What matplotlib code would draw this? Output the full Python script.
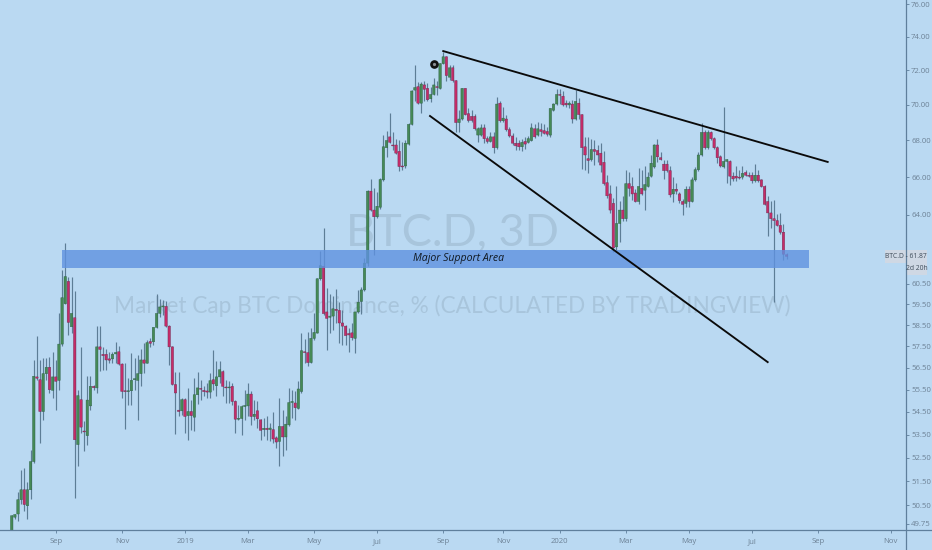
import matplotlib as mpl
mpl.use('Agg')
import matplotlib.pyplot as plt
from matplotlib.lines import Line2D
from matplotlib.patches import Rectangle

# 3D candles
opens = [49.3,50.02,50.15,50.74,51.15,50.49,51.15,52.34,56.08,55.95,
         54.52,56.23,56.52,55.47,56.08,55.92,57.6,59.53,60.62,58.42,
         58.85,53.07,55.05,53.66,53.46,54.77,55.65,55.58,57.47,57.12,
         57.12,56.91,56.91,57.14,57.24,56.67,55.45,55.41,55.45,55.95,
         55.92,56.23,56.86,56.71,57.72,57.71,58.39,59.06,59.37,59.4,
         58.45,57.47,55.73,54.58,54.55,55.05,54.34,54.52,54.27,55.27,
         55.56,55.47,55.44,55.39,55.95,55.68,56.08,56.32,55.62,55.58,
         55.65,54.97,54.18,54.21,54.74,54.77,55.3,54.3,54.55,54.15,
         53.72,53.78,53.72,53.72,53.36,53.21,53.86,53.4,53.93,54.92,
         54.9,54.66,55.42,57.24,57.2,56.74,57.87,58.12,60.75,61.37,
         59.13,58.87,58.93,59.26,59.2,58.6,58.45,58.1,58.13,57.87,
         59.13,59.64,60.2,61.53,65.25,64.25,63.9,64.4,65.85,67.6,
         68.2,67.75,67.75,67.4,66.6,66.6,67.8,68.9,70.85,71.05,
         70.1,71.15,70.95,70.35,70.6,71.05,70.95,72.4,72.8,71.6,
         72.15,71.4,69.0,69.2,70.95,69.5,69.35,69.35,68.3,68.3,
         68.7,68.1,67.95,68.2,67.6,70.1,69.1,69.2,68.6,68.25,
         67.85,67.85,67.65,67.95,67.9,68.0,68.65,68.3,68.6,68.55,
         68.5,68.3,69.7,70.05,70.6,70.5,70.1,70.0,70.05,69.2,
         70.1,69.45,67.65,67.0,66.95,67.5,67.45,67.3,66.8,65.7,
         65.1,64.6,62.35,63.55,64.25,63.8,65.65,65.5,65.15,64.7,
         65.4,65.3,65.5,66.05,66.55,67.75,67.05,66.7,66.7,66.35,
         65.1,65.35,65.1,64.7,64.6,65.35,64.7,65.85,66.4,67.2,
         68.45,67.6,68.45,68.1,67.6,67.1,66.55,66.85,66.85,66.05,
         66.05,66.0,66.0,66.25,66.1,66.1,65.8,66.1,65.85,65.5,
         64.7,64.1,63.8,63.7,63.45,63.1,61.95]
closes = [50.08,50.13,50.74,51.15,50.54,51.15,52.34,56.11,56.02,54.52,
          56.23,56.52,55.5,56.08,55.88,57.6,59.82,60.86,58.63,59.06,
          53.28,55.23,53.83,53.62,55.03,55.65,55.59,57.47,57.35,57.06,
          56.86,56.85,57.12,57.21,56.67,55.42,55.41,55.45,55.92,56.0,
          56.23,56.86,56.71,57.67,57.64,58.39,59.06,59.37,59.42,58.45,
          57.47,55.74,55.35,54.52,55.05,54.3,54.52,54.34,55.27,55.58,
          55.52,55.41,55.39,55.91,55.76,56.08,56.41,55.65,55.58,55.62,
          54.97,54.18,54.22,54.74,54.79,55.3,54.3,54.4,54.2,53.69,
          53.78,53.72,53.79,53.31,53.18,53.86,53.4,53.96,54.92,54.97,
          54.69,55.53,57.29,57.2,56.74,57.87,58.15,60.75,61.4,59.05,
          58.82,58.93,59.28,59.2,58.6,58.45,58.0,58.03,57.9,59.13,
          59.6,60.2,61.53,65.25,64.25,63.9,64.45,65.87,67.65,68.0,
          67.9,67.7,67.3,66.57,66.55,67.85,68.9,70.8,71.0,70.1,
          71.2,70.9,70.3,70.6,71.15,71.0,72.4,72.8,71.7,72.15,
          71.4,69.0,69.2,70.95,69.45,69.12,69.12,68.65,68.65,68.7,
          68.1,67.95,68.2,67.6,70.05,69.1,69.25,68.6,68.25,67.85,
          67.7,67.65,67.9,67.8,68.1,68.7,68.2,68.65,68.5,68.4,
          68.35,69.8,70.05,70.6,70.55,70.0,70.0,70.1,69.2,70.2,
          69.45,67.6,67.2,66.9,67.5,67.4,67.2,66.65,65.65,65.0,
          64.25,62.3,63.55,64.25,63.8,65.65,65.4,65.1,64.7,65.5,
          65.1,65.6,66.0,66.75,67.75,67.1,66.95,66.35,66.35,65.05,
          65.35,65.25,64.75,64.55,65.35,64.7,65.85,66.4,67.2,68.45,
          67.6,68.45,68.1,67.6,67.05,66.6,66.85,66.95,66.05,65.9,
          65.95,65.95,66.2,66.1,66.05,65.8,66.1,65.8,65.5,64.55,
          64.1,63.8,63.7,63.45,63.1,61.98,61.87]
highs = [50.12,50.15,51.06,51.98,52.05,51.47,52.85,56.86,57.98,56.86,
         56.94,56.94,57.02,57.24,56.86,59.06,61.2,62.53,60.82,60.82,
         60.13,55.5,57.47,54.08,56.11,56.11,55.7,58.45,58.45,57.47,
         57.39,57.24,57.24,57.71,57.5,56.7,56.71,56.03,57.2,56.94,
         57.09,57.39,57.66,57.79,57.91,58.42,60.01,59.77,59.72,59.64,
         58.5,57.5,56.3,56.3,55.12,55.12,55.58,55.05,56.03,56.29,
         55.95,55.65,55.8,56.26,57.32,56.83,56.83,56.41,55.95,55.88,
         55.8,55.05,54.82,54.82,55.5,55.8,55.42,55.05,54.97,54.18,
         54.22,54.3,54.01,54.52,53.43,55.12,54.59,54.3,55.58,55.5,
         55.42,55.91,58.1,57.86,58.15,58.36,59.07,60.8,62.15,63.3,
         60.3,60.0,59.9,60.25,59.6,59.2,58.5,58.36,58.6,59.15,
         60.2,60.33,61.8,65.3,65.9,65.4,65.2,65.95,68.3,68.5,
         69.55,68.45,68.1,68.0,67.9,68.0,68.95,70.85,72.3,71.3,
         71.3,71.35,71.25,71.05,71.55,71.35,72.45,73.1,72.85,72.3,
         72.3,71.45,69.7,71.0,71.0,69.85,69.7,69.5,68.75,68.9,
         68.9,68.25,68.45,68.45,70.45,70.2,69.9,69.4,68.75,68.4,
         68.2,68.0,68.1,68.2,68.25,68.95,68.9,69.05,69.0,68.9,
         68.75,69.85,70.1,70.9,70.9,70.8,70.3,70.25,70.3,70.85,
         70.4,69.5,68.2,68.2,68.1,68.0,67.75,67.85,67.4,66.1,
         65.6,64.9,65.5,64.75,65.0,66.4,66.25,66.0,65.35,66.5,
         66.4,66.6,66.3,67.2,67.8,68.1,67.35,66.9,66.9,66.6,
         66.0,65.7,65.2,64.85,65.5,65.5,66.0,66.55,67.35,69.0,
         68.6,68.6,68.55,68.2,67.7,67.2,69.9,67.0,66.9,66.3,
         66.6,66.4,66.6,66.4,66.3,66.3,66.7,66.4,65.9,65.55,
         65.0,64.7,64.8,64.05,64.1,63.5,62.05]
lows = [49.2,49.95,49.88,50.57,50.29,49.95,50.78,52.3,55.95,53.14,
        54.15,55.95,55.35,55.12,54.59,55.5,57.5,59.5,58.02,58.1,
        50.82,52.15,53.57,52.78,53.07,54.59,55.5,55.35,56.33,56.41,
        56.41,56.71,56.71,56.71,56.64,55.12,53.75,54.82,54.82,55.5,
        54.15,55.65,56.26,56.71,57.47,57.55,58.34,58.9,58.98,58.42,
        56.64,55.72,53.54,54.3,54.37,53.57,53.28,53.72,53.64,54.85,
        55.05,55.2,55.12,55.12,55.5,55.23,55.8,55.2,54.92,54.89,
        54.82,53.57,54.15,53.5,54.15,54.3,53.93,54.15,53.79,53.28,
        53.43,53.28,53.21,53.14,52.92,52.15,52.59,52.85,53.86,54.22,
        54.15,54.62,55.35,56.7,56.56,56.72,57.78,58.1,60.7,59.0,
        57.3,58.1,58.26,58.6,57.65,57.55,57.55,57.25,57.78,57.2,
        59.07,59.05,60.15,61.4,64.2,61.95,63.85,64.3,65.8,67.1,
        67.85,67.45,67.25,66.35,66.4,66.5,67.75,68.85,70.2,70.05,
        69.55,70.25,70.25,70.15,70.55,70.55,70.9,72.35,71.35,71.45,
        71.3,68.45,68.45,69.15,69.4,69.05,69.05,68.6,67.9,68.25,
        67.85,67.85,67.9,67.3,67.55,69.05,69.05,68.55,68.2,67.75,
        67.45,67.45,67.4,67.55,67.85,67.95,68.15,68.25,68.25,68.35,
        68.25,68.2,69.65,70.0,70.05,69.95,69.9,69.8,68.95,69.15,
        69.2,66.45,66.4,66.2,66.85,66.65,66.8,66.3,65.55,64.9,
        64.1,62.1,62.2,62.6,63.7,63.7,65.0,64.8,64.65,64.55,
        65.05,64.25,65.45,66.0,66.5,66.8,66.9,65.9,66.3,64.95,
        64.65,65.1,64.6,64.0,64.4,64.4,64.65,65.8,66.35,67.15,
        67.55,67.55,68.05,67.55,66.75,66.55,66.5,65.7,65.55,65.8,
        65.8,65.9,65.9,66.05,66.0,65.7,65.75,65.75,65.45,64.5,
        62.9,63.3,59.6,63.4,63.0,61.7,61.75]

# other things on the chart, in bar numbers and prices
upper_line_bars = [137.0, 259.05]
upper_line_prices = [73.14, 66.82]
lower_line_bars = [132.8, 240.0]
lower_line_prices = [69.37, 56.76]
support_bars = [16.0, 253.0]
support_prices = [61.28, 62.2]
alarm_bar = 134
alarm_price = 72.37

y_ticks = [76, 74, 72, 70, 68, 66, 64, 60.5, 59.5, 58.5, 57.5, 56.5, 55.5, 54.5, 53.5, 52.5, 51.5, 50.5, 49.75]
x_tick_bars = [14, 35, 55, 75, 96, 116, 137, 156, 174, 195, 215, 235, 256, 279]
x_tick_labels = ['Sep', 'Nov', '2019', 'Mar', 'May', 'Jul', 'Sep', 'Nov', '2020', 'Mar', 'May', 'Jul', 'Sep', 'Nov']

W, H = 932, 550
BG = '#bad9f2'
AXIS = '#5f7f9c'
TEXT = '#6d8296'
WM = '#a8c5dc'

def fx(x):
    return x / W

def fy(y):
    return 1 - y / H

fig = plt.figure(figsize=(W / 100, H / 100), dpi=100, facecolor=BG)
ax = fig.add_axes([0, 20 / H, 905.5 / W, 530 / H], facecolor=BG)
ax.set_yscale('log')
ax.set_ylim(49.5, 76.25)
ax.set_xlim(-3.714, 283.75)

# watermark goes under the candles
ax.text(fx(452), fy(233), 'BTC.D, 3D', transform=fig.transFigure, family='Lato', fontsize=32.5,
        color=WM, ha='center', va='center', zorder=0)
ax.text(fx(452), fy(306), 'Market Cap BTC Dominance, % (CALCULATED BY TRADINGVIEW)', transform=fig.transFigure,
        family='Lato', fontsize=16.3, color=WM, ha='center', va='center', zorder=0)

bars = list(range(len(opens)))
ax.vlines(bars, lows, highs, color='#5d7d96', lw=0.85, zorder=2)
for i in bars:
    up = closes[i] >= opens[i]
    bottom = min(opens[i], closes[i])
    height = abs(closes[i] - opens[i])
    b = ax.bar(i, height, bottom=bottom, width=0.78,
               color='#468a56' if up else '#c62c68',
               edgecolor='#2c5f46' if up else '#6e2a52', lw=0.3, zorder=3)
    b[0].set_snap(False)

# support band sits over the candles
ax.fill_between(support_bars, support_prices[0], support_prices[1], color='#5f92e0', alpha=0.8, lw=0, zorder=4)
ax.plot(upper_line_bars, upper_line_prices, color='#0a0a0a', lw=1.35, zorder=5)
ax.plot(lower_line_bars, lower_line_prices, color='#0a0a0a', lw=1.35, zorder=5)
ax.plot([alarm_bar], [alarm_price], 'o', ms=5.2, color='#111111', zorder=6)
ax.plot([alarm_bar], [alarm_price], 'o', ms=1.3, color='#8a8f94', zorder=7)
ax.text(fx(459), fy(258), 'Major Support Area', transform=fig.transFigure, family='Open Sans', style='italic',
        fontsize=7.6, color='#101820', ha='center', va='center', zorder=6)

ax.yaxis.tick_right()
ax.set_yticks(y_ticks)
ax.set_yticklabels(['%.2f' % v for v in y_ticks])
ax.minorticks_off()
ax.set_xticks(x_tick_bars)
ax.set_xticklabels(x_tick_labels)
ax.tick_params(axis='y', length=2.5, width=0.6, color=AXIS, labelcolor=TEXT, labelsize=5.6, pad=1.5)
ax.tick_params(axis='x', length=2, width=0.6, color=AXIS, labelcolor=TEXT, labelsize=5.6, pad=4)
for lab in ax.get_xticklabels() + ax.get_yticklabels():
    lab.set_family('Open Sans')
for side in ax.spines:
    ax.spines[side].set_visible(False)

# axis lines run to the edges of the image
fig.add_artist(Line2D([fx(905.5), fx(905.5)], [0, 1], color=AXIS, lw=0.9))
fig.add_artist(Line2D([0, 1], [fy(530), fy(530)], color=AXIS, lw=0.9))

# last price labels
fig.add_artist(Rectangle((fx(885), fy(263)), 42 / W, 13 / H, transform=fig.transFigure, color='#cfd8e4', lw=0))
fig.add_artist(Rectangle((fx(907), fy(275)), 20 / W, 12 / H, transform=fig.transFigure, color='#cfd8e4', lw=0))
fig.text(fx(906), fy(256.5), 'BTC.D - 61.87', family='Open Sans', fontsize=4.9, color='#3c4a58', ha='center', va='center')
fig.text(fx(917), fy(269), '2d 20h', family='Open Sans', fontsize=4.9, color='#3c4a58', ha='center', va='center')

fig.savefig('out.png', dpi=100, facecolor=BG)
